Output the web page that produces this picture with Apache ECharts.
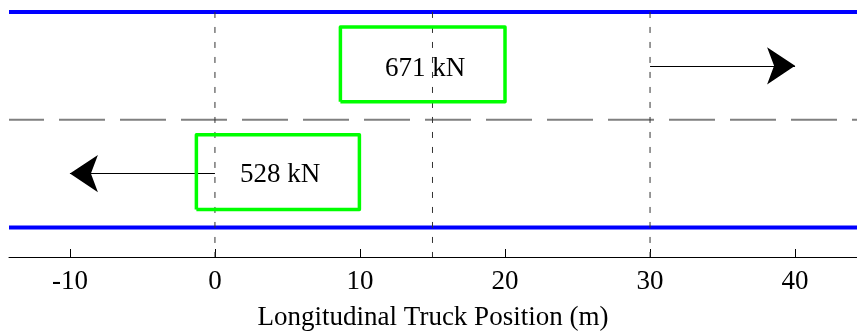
<!DOCTYPE html>
<html>
<head>
<meta charset="utf-8">
<script src="https://cdn.jsdelivr.net/npm/echarts@6/dist/echarts.min.js"></script>
<style>
html, body { margin: 0; padding: 0; background: #fff; }
#main { width: 857px; height: 333px; }
</style>
</head>
<body>
<div id="main"></div>
<script>
// x axis ticks (m)
var tickValues = [-10, 0, 10, 20, 30, 40];
var xRange = [-14.2, 44.27];
var yRange = [-0.274, 2.111];
// lane edges (blue) and centre line (dashed)
var laneEdges = [0, 2];
var laneCenter = 1;
// vertical reference positions (m)
var refPositions = [0, 15, 30];
// trucks: label, box x from/to, box y from/to
var truckLabels = ['671 kN', '528 kN'];
var truckBoxX = [[8.65, 20.0], [-1.28, 9.96]];
var truckBoxY = [[1.167, 1.861], [0.167, 0.861]];
var truckTextPos = [[14.5, 1.475], [4.5, 0.49]];
// travel direction arrows (m)
var arrowX = [[30, 40], [0, -10]];
var arrowY = [1.5, 0.5];

var fontName = '"Liberation Serif", "DejaVu Serif", serif';

var myChart = echarts.init(document.getElementById('main'));

var series = [];

// lane edges
for (var i = 0; i < laneEdges.length; i++) {
	series.push({
		type: 'line',
		symbol: 'none',
		silent: true,
		lineStyle: { color: '#0000ff', width: 4 },
		data: [[xRange[0], laneEdges[i]], [xRange[1], laneEdges[i]]]
	});
}

// centre line
series.push({
	type: 'line',
	symbol: 'none',
	silent: true,
	lineStyle: { color: '#808080', width: 2, type: [46, 15], dashOffset: 11 },
	data: [[xRange[0], laneCenter], [xRange[1], laneCenter]]
});

// vertical dashed lines
for (var i = 0; i < refPositions.length; i++) {
	series.push({
		type: 'line',
		symbol: 'none',
		silent: true,
		lineStyle: { color: '#333', width: 1, type: [6, 9] },
		data: [[refPositions[i], laneEdges[1]], [refPositions[i], yRange[0]]]
	});
}

// truck boxes
for (var i = 0; i < truckLabels.length; i++) {
	var bx = truckBoxX[i], by = truckBoxY[i];
	series.push({
		type: 'line',
		symbol: 'none',
		silent: true,
		lineStyle: { color: '#00ff00', width: 3.5, join: 'round' },
		data: [[bx[0], by[0]], [bx[1], by[0]], [bx[1], by[1]], [bx[0], by[1]], [bx[0], by[0]]]
	});
}

// arrows
var arrowData = [];
for (var i = 0; i < arrowX.length; i++) {
	arrowData.push({ coords: [[arrowX[i][0], arrowY[i]], [arrowX[i][1], arrowY[i]]] });
}
series.push({
	type: 'lines',
	coordinateSystem: 'cartesian2d',
	silent: true,
	symbol: ['none', 'arrow'],
	symbolSize: [21, 28],
	lineStyle: { color: '#000', width: 1, opacity: 1 },
	itemStyle: { color: '#000' },
	data: arrowData
});

// truck load labels
var textData = [];
for (var i = 0; i < truckLabels.length; i++) {
	textData.push({ value: truckTextPos[i], name: truckLabels[i] });
}
series.push({
	type: 'scatter',
	symbolSize: 1,
	silent: true,
	itemStyle: { color: 'rgba(0,0,0,0)' },
	label: {
		show: true,
		position: 'inside',
		formatter: '{b}',
		color: '#000',
		opacity: 1,
		textBorderWidth: 0,
		fontFamily: fontName,
		fontSize: 27
	},
	data: textData
});

var option = {
	animation: false,
	grid: { left: 9, right: 0, top: 0, bottom: 76, outerBoundsMode: 'none' },
	xAxis: {
		type: 'value',
		min: xRange[0],
		max: xRange[1],
		name: 'Longitudinal Truck Position (m)',
		nameLocation: 'middle',
		nameGap: 47,
		nameTextStyle: { color: '#000', fontFamily: fontName, fontSize: 27 },
		axisLine: { show: true, onZero: false, lineStyle: { color: '#000', width: 1 } },
		axisTick: { show: true, inside: true, length: 8, customValues: tickValues, lineStyle: { color: '#000' } },
		axisLabel: { customValues: tickValues, margin: 11, color: '#000', fontFamily: fontName, fontSize: 27 },
		splitLine: { show: false }
	},
	yAxis: {
		type: 'value',
		min: yRange[0],
		max: yRange[1],
		show: false,
		splitLine: { show: false }
	},
	series: series
};

myChart.setOption(option);
</script>
</body>
</html>
